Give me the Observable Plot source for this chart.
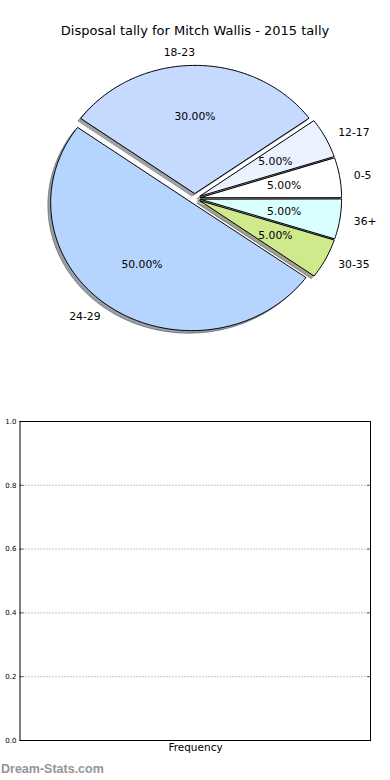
<!DOCTYPE html>
<html><head><meta charset="utf-8">
<script src="https://cdn.jsdelivr.net/npm/d3@7"></script>
<script src="https://cdn.jsdelivr.net/npm/@observablehq/plot@0.6"></script>
<style>
body{margin:0;background:#fff;}
#wrap{position:relative;width:390px;height:780px;overflow:hidden;font-family:"DejaVu Sans";}
#pie{position:absolute;left:0;top:0;}
#title{position:absolute;left:0;top:23px;width:390px;text-align:center;font:13px/15px "DejaVu Sans";color:#000;white-space:nowrap;}
#bar{position:absolute;left:0;top:400px;}
#wm{position:absolute;left:1px;top:762px;font:bold 12.5px/14px "Liberation Sans";color:#959595;white-space:nowrap;}
</style></head><body>
<div id="wrap"><div id="pie"></div><div id="title"></div><div id="bar"></div><div id="wm"></div></div>
<script>
const title = "Disposal tally for Mitch Wallis - 2015 tally";
const watermark = "Dream-Stats.com";
const labels = ["0-5", "12-17", "18-23", "24-29", "30-35", "36+"];
const values = [1, 1, 6, 10, 1, 1];
const colors = ["#ffffff", "#eaf1ff", "#c6d9ff", "#b5d5ff", "#cfea8d", "#daffff"];
const explode = [0.04, 0.04, 0.04, 0.04, 0.04, 0.04];
const barCategories = ["Frequency"];
const barValues = [];
const yTicks = [0, 0.2, 0.4, 0.6, 0.8, 1.0];

document.getElementById("title").textContent = title;
document.getElementById("wm").textContent = watermark;

const total = d3.sum(values);
let acc = 0;
const slices = labels.map((label, i) => {
  const frac = values[i] / total;
  const t1 = acc * 2 * Math.PI;
  acc += frac;
  const t2 = acc * 2 * Math.PI;
  const mid = (t1 + t2) / 2;
  const cx = explode[i] * Math.cos(mid), cy = explode[i] * Math.sin(mid);
  const c = d3.rgb(colors[i]);
  const shadow = d3.rgb(c.r * 0.3, c.g * 0.3, c.b * 0.3).formatHex();
  return {label, frac, t1, t2, mid, cx, cy, color: colors[i], shadow};
});

function wedge(s, ox, oy) {
  const pts = [{x: s.cx + ox, y: s.cy + oy}];
  const n = Math.max(4, Math.ceil((s.t2 - s.t1) / (2 * Math.PI) * 360));
  for (let k = 0; k <= n; ++k) {
    const t = s.t1 + (s.t2 - s.t1) * k / n;
    pts.push({x: s.cx + ox + Math.cos(t), y: s.cy + oy + Math.sin(t)});
  }
  return pts;
}

const labelPts = slices.map(s => ({
  label: s.label,
  x: s.cx + 1.1 * Math.cos(s.mid),
  y: s.cy + 1.1 * Math.sin(s.mid),
  left: Math.cos(s.mid) > 1e-9
}));
const pctPts = slices.map(s => ({
  text: d3.format(".2f")(s.frac * 100) + "%",
  x: s.cx + 0.6 * Math.cos(s.mid),
  y: s.cy + 0.6 * Math.sin(s.mid)
}));

const pieMarks = [];
for (const s of slices) {
  pieMarks.push(Plot.line(wedge(s, -0.02, -0.02), {x: "x", y: "y", curve: "linear-closed",
    fill: s.shadow, fillOpacity: 0.5, stroke: s.shadow, strokeOpacity: 0.5, strokeWidth: 1}));
}
for (const s of slices) {
  pieMarks.push(Plot.line(wedge(s, 0, 0), {x: "x", y: "y", curve: "linear-closed",
    fill: s.color, stroke: "#000", strokeWidth: 1, strokeLinejoin: "miter"}));
}
const fs = 10.8;
pieMarks.push(Plot.text(labelPts.filter(d => d.left), {x: "x", y: "y", text: "label", textAnchor: "start", lineAnchor: "middle", fontSize: fs, fill: "#000"}));
pieMarks.push(Plot.text(labelPts.filter(d => !d.left), {x: "x", y: "y", text: "label", textAnchor: "end", lineAnchor: "middle", fontSize: fs, fill: "#000"}));
pieMarks.push(Plot.text(pctPts, {x: "x", y: "y", text: "text", textAnchor: "middle", lineAnchor: "middle", fontSize: fs, fill: "#000"}));

const pie = Plot.plot({
  width: 390, height: 390, margin: 0,
  style: {fontFamily: "DejaVu Sans", background: "transparent", overflow: "visible"},
  x: {domain: [-1, 1], range: [53.5, 335.5], axis: null},
  y: {domain: [-1, 1], range: [326, 70], axis: null},
  marks: pieMarks
});
document.getElementById("pie").appendChild(pie);

const bar = Plot.plot({
  width: 390, height: 380,
  marginTop: 21, marginBottom: 40, marginLeft: 19.5, marginRight: 20,
  style: {fontFamily: "DejaVu Sans", background: "transparent", color: "#000"},
  x: {domain: barCategories, axis: null, label: null},
  y: {domain: [0, 1], axis: null, label: null},
  marks: [
    Plot.gridY(yTicks, {stroke: "#000", strokeOpacity: 0.45, strokeDasharray: "1,2", strokeWidth: 1}),
    Plot.barY(barValues, {x: "category", y: "value", fill: "#b5d5ff"}),
    Plot.axisY(yTicks, {anchor: "left", label: null, tickSize: -4, tickPadding: 7.5, fontSize: 7, fill: "#000", tickFormat: d3.format(".1f"), strokeWidth: 0.6}),
    Plot.axisY(yTicks, {anchor: "right", label: null, tickSize: -4, tickFormat: () => "", strokeWidth: 0.6}),
    Plot.axisX(barCategories, {anchor: "bottom", label: null, tickSize: 0, tickPadding: 3, fontSize: 10.5, fill: "#000"}),
    Plot.frame({stroke: "#000", strokeWidth: 1})
  ]
});
document.getElementById("bar").appendChild(bar);
</script>
</body></html>
